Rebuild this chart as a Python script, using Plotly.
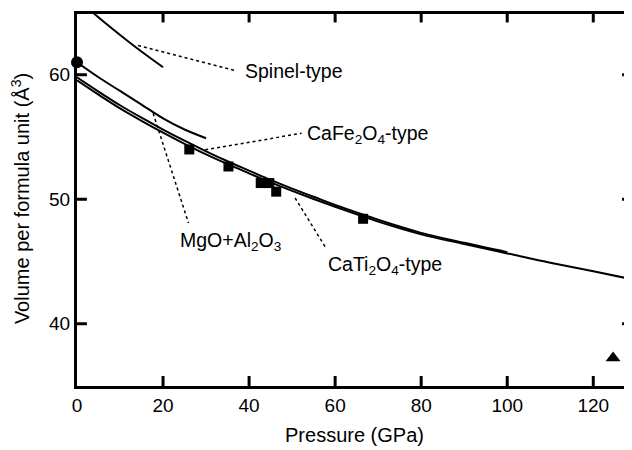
import plotly.graph_objects as go

# curves (pressure in GPa, volume in A^3)
spinel_p = [0, 4, 8, 12, 16, 20]
spinel_v = [66.1, 64.9, 63.75, 62.65, 61.6, 60.6]

mgo_p = [0, 5, 10, 15, 20, 25, 30]
mgo_v = [61.0, 59.8, 58.7, 57.6, 56.5, 55.6, 54.9]

cafe_p = [0, 5, 10, 15, 20, 25, 30, 35, 40, 45, 50, 55, 60, 65, 70, 80, 90, 100]
cafe_v = [59.8, 58.65, 57.55, 56.55, 55.6, 54.7, 53.85, 53.05, 52.3, 51.55,
          50.85, 50.2, 49.55, 48.95, 48.35, 47.3, 46.5, 45.75]

cati_p = [0, 5, 10, 15, 20, 25, 30, 35, 40, 45, 50, 55, 60, 65, 70, 80, 90,
          100, 110, 120, 130]
cati_v = [59.55, 58.4, 57.3, 56.3, 55.35, 54.45, 53.6, 52.82, 52.08, 51.35,
          50.67, 50.02, 49.4, 48.8, 48.2, 47.18, 46.4, 45.65, 44.9, 44.22, 43.5]

# measured points
sq_p = [26.1, 35.2, 42.7, 44.7, 46.3, 66.5]
sq_v = [54.0, 52.63, 51.3, 51.3, 50.61, 48.43]
circ_p = [0]
circ_v = [61.0]
tri_p = [124.6]
tri_v = [37.25]

# labels (left edge) and their leader lines
labels = ['Spinel-type', 'CaFe<sub>2</sub>O<sub>4</sub>-type',
          'MgO+Al<sub>2</sub>O<sub>3</sub>', 'CaTi<sub>2</sub>O<sub>4</sub>-type']
label_p = [38.6, 53.1, 23.4, 57.9]
label_v = [60.3, 55.2, 46.6, 44.65]
leader_p = [[14.2, 36.7], [29.8, 52.2], [17.7, 25.9], [50.7, 58.0]]
leader_v = [[62.35, 60.35], [53.97, 55.3], [56.9, 48.1], [50.1, 46.0]]

x_ticks = [20, 40, 60, 80, 100, 120]
y_ticks = [40, 50, 60]
x_range = [0, 129]
y_range = [35, 65.12]
y_top = 65

font = 'Liberation Sans, Arial, sans-serif'

fig = go.Figure()

for lp, lv in zip(leader_p, leader_v):
    fig.add_trace(go.Scatter(x=lp, y=lv, mode='lines', showlegend=False,
                             line=dict(color='black', width=1.5, dash='3px,3px')))

for p, v in [(spinel_p, spinel_v), (mgo_p, mgo_v), (cafe_p, cafe_v), (cati_p, cati_v)]:
    fig.add_trace(go.Scatter(x=p, y=v, mode='lines', showlegend=False,
                             line=dict(color='black', width=2, shape='spline')))

fig.add_trace(go.Scatter(x=sq_p, y=sq_v, mode='markers', showlegend=False,
                         marker=dict(symbol='square', size=10, color='black')))
fig.add_trace(go.Scatter(x=circ_p, y=circ_v, mode='markers', showlegend=False, cliponaxis=False,
                         marker=dict(symbol='circle', size=12, color='black')))
fig.add_trace(go.Scatter(x=tri_p, y=tri_v, mode='markers', showlegend=False,
                         marker=dict(symbol='triangle-up', size=13, color='black')))

# top frame line and inward ticks on all sides (tick length ~10px)
xlen = 2.3
ylen = 0.8
fx, fy = [x_range[0], x_range[1], None], [y_top, y_top, None]
for t in x_ticks:
    fx += [t, t, None, t, t, None]
    fy += [y_range[0], y_range[0] + ylen, None, y_top, y_top - ylen, None]
for t in y_ticks:
    fx += [x_range[0], x_range[0] + xlen, None, x_range[1], x_range[1] - xlen, None]
    fy += [t, t, None, t, t, None]
fig.add_trace(go.Scatter(x=fx, y=fy, mode='lines', showlegend=False, hoverinfo='skip',
                         line=dict(color='black', width=3)))

for text, p, v in zip(labels, label_p, label_v):
    fig.add_annotation(x=p, y=v, text=text, showarrow=False, xanchor='left',
                       font=dict(family=font, size=19.5, color='black'))

# page body has an 8px margin, so the figure is a bit smaller than the window
fig.update_layout(
    template='none',
    width=624, height=442,
    margin=dict(l=69, r=0, t=3, b=64, autoexpand=False),
    paper_bgcolor='white', plot_bgcolor='white',
    font=dict(family=font, size=19, color='black'),
    xaxis=dict(range=x_range, tickvals=[0] + x_ticks, ticks='',
               showline=True, linewidth=3, linecolor='black',
               showgrid=False, zeroline=False, automargin=False,
               title=dict(text='Pressure (GPa)', font=dict(size=20), standoff=14)),
    yaxis=dict(range=y_range, tickvals=y_ticks, ticks='',
               showline=True, linewidth=3, linecolor='black',
               showgrid=False, zeroline=False, automargin=False,
               title=dict(text='Volume per formula unit (Å<sup>3</sup>)',
                          font=dict(size=20), standoff=16)),
)

fig.write_html('out.html')
